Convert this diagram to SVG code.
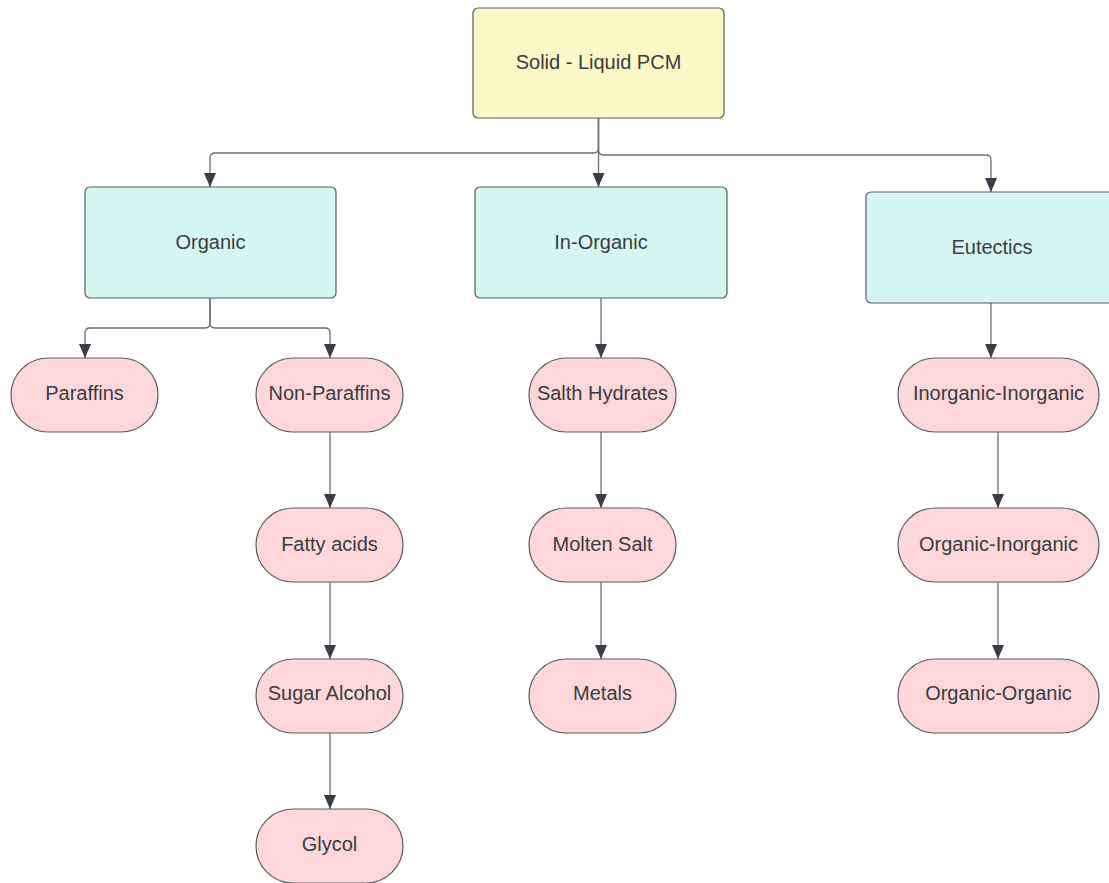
<svg xmlns="http://www.w3.org/2000/svg" width="1109" height="883" viewBox="0 0 1109 883">
<defs>
<style>
.root{fill:#fbf9c8;stroke:#5c5c5c;stroke-width:1.2}
.cat{fill:#d5f7f1;stroke:#5c5c5c;stroke-width:1.2}
.pill{fill:#fdd7d9;stroke:#5c5c5c;stroke-width:1.2}
text{font-family:"Liberation Sans",Arial,sans-serif;font-size:20px;fill:#3a3c40;text-anchor:middle;dominant-baseline:central}
.c{fill:none;stroke:#6a6e74;stroke-width:1.3;marker-end:url(#ah)}
</style>
<marker id="ah" viewBox="0 0 14 12" refX="14" refY="6" markerUnits="userSpaceOnUse" markerWidth="14" markerHeight="12" orient="auto">
<path d="M0,0 L14,6 L0,12 Z" fill="#383e48"/>
</marker>
</defs>
<rect width="1109" height="883" fill="#ffffff"/>
<g id="connectors">
<path class="c" d="M598.5,118 V148 Q598.5,153 593.5,153 H215 Q210,153 210,158 V187"/>
<path class="c" d="M598.5,118 V187"/>
<path class="c" d="M598.5,118 V150 Q598.5,155 603.5,155 H986 Q991,155 991,160 V192"/>
<path class="c" d="M210,298 V323 Q210,328 205,328 H90 Q85,328 85,333 V358"/>
<path class="c" d="M210,298 V323 Q210,328 215,328 H325 Q330,328 330,333 V358"/>
<path class="c" d="M330,432 V508"/>
<path class="c" d="M330,582 V659"/>
<path class="c" d="M330,733 V809"/>
<path class="c" d="M601,298 V358"/>
<path class="c" d="M601,432 V508"/>
<path class="c" d="M601,582 V659"/>
<path class="c" d="M991,303 V358"/>
<path class="c" d="M998,432 V508"/>
<path class="c" d="M998,582 V659"/>
</g>
<g id="n-root"><rect class="root" x="473" y="8" width="251" height="110" rx="5"/><text x="598.5" y="62">Solid - Liquid PCM</text></g>
<g id="n-organic"><rect class="cat" x="85" y="187" width="251" height="111" rx="5"/><text x="210.5" y="242">Organic</text></g>
<g id="n-inorganic"><rect class="cat" x="475" y="187" width="252" height="111" rx="5"/><text x="601" y="242">In-Organic</text></g>
<g id="n-eutectics"><rect class="cat" x="866" y="192" width="250" height="111" rx="5"/><text x="992" y="247">Eutectics</text></g>
<g id="n-paraffins"><rect class="pill" x="11" y="358" width="147" height="74" rx="37"/><text x="84.5" y="393">Paraffins</text></g>
<g id="n-nonparaffins"><rect class="pill" x="256" y="358" width="147" height="74" rx="37"/><text x="329.5" y="393">Non-Paraffins</text></g>
<g id="n-fatty"><rect class="pill" x="256" y="508" width="147" height="74" rx="37"/><text x="329.5" y="544">Fatty acids</text></g>
<g id="n-sugar"><rect class="pill" x="256" y="659" width="147" height="74" rx="37"/><text x="329.5" y="693">Sugar Alcohol</text></g>
<g id="n-glycol"><rect class="pill" x="256" y="809" width="147" height="74" rx="37"/><text x="329.5" y="844">Glycol</text></g>
<g id="n-salth"><rect class="pill" x="529" y="358" width="147" height="74" rx="37"/><text x="602.5" y="393">Salth Hydrates</text></g>
<g id="n-molten"><rect class="pill" x="529" y="508" width="147" height="74" rx="37"/><text x="602.5" y="544">Molten Salt</text></g>
<g id="n-metals"><rect class="pill" x="529" y="659" width="147" height="74" rx="37"/><text x="602.5" y="693">Metals</text></g>
<g id="n-inin"><rect class="pill" x="898" y="358" width="201" height="74" rx="37"/><text x="998.5" y="393">Inorganic-Inorganic</text></g>
<g id="n-orgin"><rect class="pill" x="898" y="508" width="201" height="74" rx="37"/><text x="998.5" y="544">Organic-Inorganic</text></g>
<g id="n-orgorg"><rect class="pill" x="898" y="659" width="201" height="74" rx="37"/><text x="998.5" y="693">Organic-Organic</text></g>
</svg>
